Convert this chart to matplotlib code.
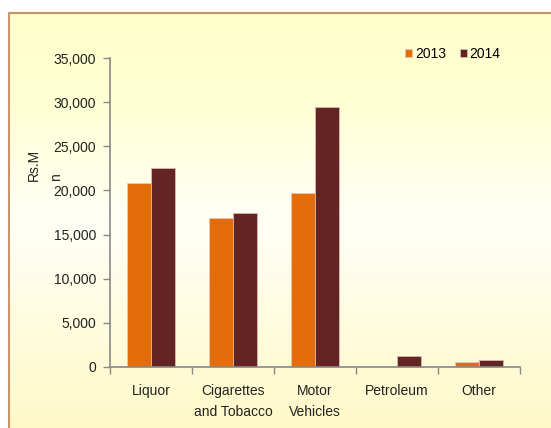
import numpy as np
import matplotlib.pyplot as plt
from matplotlib.patches import Rectangle
from matplotlib.colors import LinearSegmentedColormap

plt.rcParams['font.family'] = ['Liberation Sans', 'DejaVu Sans']

categories = ['Liquor', 'Cigarettes\nand Tobacco', 'Motor\nVehicles', 'Petroleum', 'Other']
values_2013 = [20850, 16850, 19700, 0, 550]
values_2014 = [22500, 17500, 29500, 1300, 750]
series_names = ['2013', '2014']

c2013 = '#E46C0A'
c2014 = '#632523'
fs = 10

W, H = 551, 428
fig = plt.figure(figsize=(W / 100, H / 100), dpi=100)
fig.patch.set_facecolor('white')

# chart area background: light yellow -> near white -> light yellow
bg = fig.add_axes([9 / W, 0, 1 - 9 / W, 1 - 13 / H], zorder=0)
grad = LinearSegmentedColormap.from_list(
    'bg', [(0, '#FFFFCC'), (0.2, '#FFFFD2'), (0.5, '#FFFFF6'), (1, '#FFF9C8')])
bg.imshow(np.linspace(0, 1, 256).reshape(-1, 1), aspect='auto', cmap=grad,
          extent=[0, 1, 0, 1])
bg.set_axis_off()
fig.add_artist(Rectangle((9 / W, -0.01), 1, 1 - 13 / H + 0.01, transform=fig.transFigure,
                         fill=False, edgecolor='#C8946A', linewidth=1.5, zorder=1))

ax = fig.add_axes([110 / W, 1 - 367 / H, (520 - 110) / W, (367 - 58) / H], zorder=2)
ax.patch.set_alpha(0)

x = np.arange(len(categories))
bw = 0.293
ax.bar(x - bw / 2, values_2013, bw, color=c2013, edgecolor='#F0C8A8', linewidth=0.6,
       label=series_names[0])
ax.bar(x + bw / 2, values_2014, bw, color=c2014, edgecolor='#D8B8B0', linewidth=0.6,
       label=series_names[1])

ax.set_xlim(-0.5, len(categories) - 0.5)
ax.set_ylim(0, 35000)
ax.set_yticks(np.arange(0, 35001, 5000))
ax.set_yticklabels([f'{v:,}' for v in range(0, 35001, 5000)], fontsize=fs, color='#222222')

ax.set_xticks(np.arange(-0.5, len(categories), 1))
ax.set_xticklabels([])
ax.set_xticks(x, minor=True)
ax.set_xticklabels(categories, minor=True, fontsize=fs, color='#222222', linespacing=1.7,
                   va='top')
ax.tick_params(axis='x', which='minor', length=0, pad=12)
ax.tick_params(axis='x', which='major', length=5, color='#888888', width=1)
ax.tick_params(axis='y', length=5, color='#888888', width=1, pad=5)

for s in ['top', 'right']:
    ax.spines[s].set_visible(False)
for s in ['left', 'bottom']:
    ax.spines[s].set_color('#888888')
    ax.spines[s].set_linewidth(1.2)

ax.set_ylabel('Rs.M\nn', fontsize=fs, color='#222222', multialignment='left',
              linespacing=1.75)
ax.yaxis.set_label_coords(-0.115, 0.655)

ax.legend(loc='center right', bbox_to_anchor=(0.953, 1.013), ncol=2, frameon=False,
          fontsize=fs, handlelength=0.5, handleheight=0.6, handletextpad=0.2,
          columnspacing=1.0, borderaxespad=0, borderpad=0)

fig.savefig('out.png', dpi=100, facecolor=fig.get_facecolor())
